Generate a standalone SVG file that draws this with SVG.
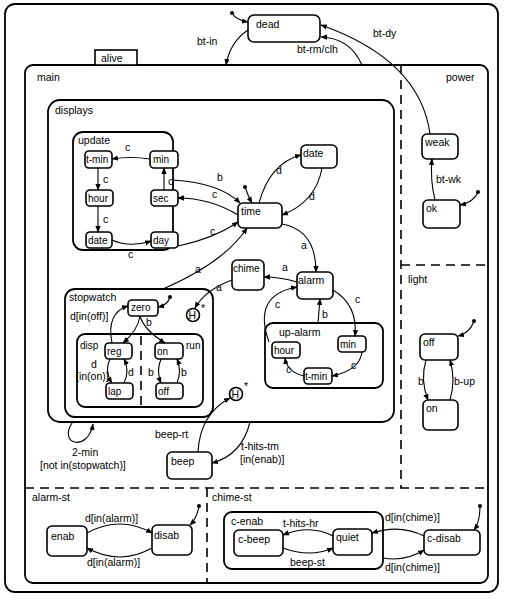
<svg xmlns="http://www.w3.org/2000/svg" width="506" height="601" viewBox="0 0 506 601">
<defs>
<marker id="ar" viewBox="0 0 10 10" refX="9" refY="5" markerWidth="6" markerHeight="6" orient="auto"><path d="M0,1 L10,5 L0,9 z" fill="#000"/></marker>
<style>
text{font-family:"Liberation Sans",Arial,sans-serif;font-size:10.5px;fill:#000}
.n{font-size:10px}
.s{fill:#fff;stroke:#000;stroke-width:1.6}
.b{fill:none;stroke:#000;stroke-width:1.8}
.d{fill:none;stroke:#000;stroke-width:1.6;stroke-dasharray:9,6}
#conn path{fill:none;stroke:#000;stroke-width:1.1;marker-end:url(#ar)}
.dot{fill:#000}
</style>
</defs>
<rect width="506" height="601" fill="#fff"/>
<rect x="5" y="4" width="493" height="588" rx="10" class="b"/>
<g id="alive">
<rect x="25" y="65" width="463" height="518" rx="8" class="b"/>
<rect x="95" y="50" width="42" height="15" class="s"/><text x="101" y="62">alive</text>
<line x1="401" y1="65" x2="401" y2="488" class="d"/>
<line x1="401" y1="265" x2="488" y2="265" class="d"/>
<line x1="25" y1="488" x2="488" y2="488" class="d"/>
<line x1="207" y1="488" x2="207" y2="583" class="d"/>
<text x="37" y="81">main</text><text x="446" y="81">power</text><text x="408" y="283">light</text>
<text x="32" y="501">alarm-st</text><text x="212" y="501">chime-st</text>
</g>
<g id="dead"><rect x="248" y="15" width="72" height="27" rx="6" class="s"/><text x="256" y="28">dead</text></g>
<g id="displays"><rect x="48" y="100" width="346" height="322" rx="12" class="b"/><text x="55" y="114">displays</text></g>
<g id="update"><rect x="73" y="132" width="100" height="118" rx="10" class="b"/><text x="78" y="144">update</text></g>
<g id="u-tmin"><rect x="85" y="151" width="27" height="17" rx="4" class="s"/><text class="n" x="86" y="163">t-min</text></g>
<g id="u-min"><rect x="150" y="151" width="28" height="17" rx="4" class="s"/><text class="n" x="153" y="163">min</text></g>
<g id="u-hour"><rect x="86" y="190" width="27" height="16" rx="4" class="s"/><text class="n" x="88" y="202">hour</text></g>
<g id="u-sec"><rect x="151" y="190" width="27" height="16" rx="4" class="s"/><text class="n" x="153" y="202">sec</text></g>
<g id="u-date"><rect x="86" y="232" width="26" height="16" rx="4" class="s"/><text class="n" x="88" y="244">date</text></g>
<g id="u-day"><rect x="151" y="232" width="27" height="16" rx="4" class="s"/><text class="n" x="153" y="244">day</text></g>
<g id="time"><rect x="238" y="203" width="44" height="25" rx="5" class="s"/><text x="241" y="215">time</text></g>
<g id="date"><rect x="301" y="145" width="36" height="23" rx="5" class="s"/><text x="303" y="157">date</text></g>
<g id="chime"><rect x="232" y="260" width="32" height="30" rx="5" class="s"/><text class="n" x="233" y="272">chime</text></g>
<g id="alarm"><rect x="297" y="272" width="36" height="27" rx="5" class="s"/><text x="298" y="284">alarm</text></g>
<g id="stopwatch"><rect x="65" y="289" width="148" height="128" rx="10" class="b"/><text x="69" y="301">stopwatch</text></g>
<g id="zero"><rect x="128" y="300" width="30" height="16" rx="4" class="s"/><text class="n" x="131" y="311">zero</text></g>
<g id="h1"><circle cx="193" cy="315" r="6.5" class="s"/><text x="188.5" y="319">H</text><text x="201" y="312">*</text></g>
<g id="disprun"><rect x="77" y="334" width="126" height="73" rx="8" class="b"/><line x1="141" y1="336" x2="141" y2="407" class="d"/><text class="n" x="80" y="349">disp</text><text class="n" x="186" y="349">run</text></g>
<g id="reg"><rect x="105" y="343" width="27" height="16" rx="4" class="s"/><text class="n" x="107" y="355">reg</text></g>
<g id="lap"><rect x="106" y="383" width="27" height="16" rx="4" class="s"/><text class="n" x="108" y="395">lap</text></g>
<g id="on1"><rect x="155" y="343" width="28" height="16" rx="4" class="s"/><text class="n" x="157" y="355">on</text></g>
<g id="off1"><rect x="156" y="383" width="27" height="16" rx="4" class="s"/><text class="n" x="158" y="395">off</text></g>
<g id="upalarm"><rect x="265" y="323" width="118" height="65" rx="8" class="b"/><text x="279" y="336">up-alarm</text></g>
<g id="a-hour"><rect x="272" y="342" width="28" height="16" rx="4" class="s"/><text class="n" x="274" y="354">hour</text></g>
<g id="a-min"><rect x="338" y="336" width="28" height="16" rx="4" class="s"/><text class="n" x="340" y="348">min</text></g>
<g id="a-tmin"><rect x="304" y="368" width="28" height="16" rx="4" class="s"/><text class="n" x="305" y="380">t-min</text></g>
<g id="h2"><circle cx="236" cy="394" r="6.5" class="s"/><text x="231.5" y="398">H</text><text x="244" y="390">*</text></g>
<g id="beep"><rect x="167" y="452" width="45" height="27" rx="5" class="s"/><text x="171" y="465">beep</text></g>
<g id="weak"><rect x="422" y="134" width="36" height="25" rx="5" class="s"/><text x="425" y="146">weak</text></g>
<g id="ok"><rect x="423" y="200" width="37" height="28" rx="5" class="s"/><text x="426" y="212">ok</text></g>
<g id="off"><rect x="420" y="334" width="38" height="26" rx="5" class="s"/><text x="423" y="346">off</text></g>
<g id="on"><rect x="423" y="400" width="35" height="30" rx="5" class="s"/><text x="426" y="412">on</text></g>
<g id="enab"><rect x="47" y="526" width="40" height="30" rx="5" class="s"/><text x="51" y="540">enab</text></g>
<g id="disab"><rect x="152" y="525" width="40" height="30" rx="5" class="s"/><text x="154" y="539">disab</text></g>
<g id="cenab"><rect x="224" y="512" width="159" height="57" rx="8" class="b"/><text x="231" y="525">c-enab</text></g>
<g id="cbeep"><rect x="234" y="530" width="49" height="26" rx="5" class="s"/><text x="238" y="543">c-beep</text></g>
<g id="quiet"><rect x="333" y="529" width="39" height="26" rx="5" class="s"/><text x="336" y="541">quiet</text></g>
<g id="cdisab"><rect x="424" y="530" width="56" height="25" rx="5" class="s"/><text x="427" y="542">c-disab</text></g>
<g id="conn">
<circle class="dot" cx="232" cy="13" r="2"/><path d="M232,13 Q236,20 248,22"/>
<path d="M248,30 Q230,42 226,65"/>
<path d="M362,65 Q350,38 321,37"/>
<path d="M430,134 Q420,60 321,25"/>
<path d="M150,159 Q130,156 112,159"/>
<path d="M98,168 L98,190"/>
<path d="M98,206 L98,232"/>
<path d="M112,240 Q130,248 151,241"/>
<path d="M164,190 L164,168"/>
<path d="M173,180 Q220,183 240,203"/>
<path d="M238,215 Q210,198 178,198"/>
<path d="M178,246 Q215,238 238,222"/>
<circle class="dot" cx="245" cy="187" r="2"/><path d="M245,187 Q248,196 252,203"/>
<path d="M259,203 Q270,163 301,155"/>
<path d="M322,168 Q316,202 282,215"/>
<path d="M163,289 Q225,262 247,228"/>
<path d="M282,224 Q316,230 316,272"/>
<path d="M297,282 Q280,277 264,277"/>
<path d="M232,280 Q205,290 195,308"/>
<circle class="dot" cx="170" cy="297" r="2"/><path d="M170,297 Q168,305 158,307"/>
<path d="M140,316 Q138,330 123,343"/>
<path d="M140,316 Q144,330 165,343"/>
<path d="M112,343 Q106,313 128,306"/>
<path d="M110,359 Q104,371 112,383"/>
<path d="M124,383 Q130,371 124,359"/>
<path d="M161,359 Q156,371 161,383"/>
<path d="M177,383 Q182,371 177,359"/>
<path d="M333,290 Q358,305 355,336"/>
<path d="M362,352 Q360,370 332,376"/>
<path d="M304,376 Q287,372 285,358"/>
<path d="M269,342 Q252,295 297,287"/>
<path d="M318,323 L320,299"/>
<path d="M198,452 Q200,414 230,398"/>
<path d="M250,422 Q242,455 212,463"/>
<path d="M72,423 C58,445 88,452 93,424"/>
<path d="M435,200 Q430,180 432,159"/>
<circle class="dot" cx="478" cy="192" r="2"/><path d="M478,192 Q474,202 460,205"/>
<circle class="dot" cx="474" cy="321" r="2"/><path d="M474,321 Q470,333 458,336"/>
<path d="M426,360 Q420,380 428,400"/>
<path d="M450,400 Q456,380 450,360"/>
<path d="M87,533 Q120,515 152,533"/>
<path d="M152,548 Q120,566 87,548"/>
<circle class="dot" cx="199" cy="506" r="2"/><path d="M199,506 Q197,518 190,525"/>
<circle class="dot" cx="480" cy="506" r="2"/><path d="M480,506 Q480,522 474,530"/>
<path d="M424,536 Q400,524 372,533"/>
<path d="M383,558 Q405,562 424,550"/>
<path d="M333,536 Q310,524 283,535"/>
<path d="M283,548 Q310,558 333,548"/>
</g>
<g id="labels">
<text x="197" y="45">bt-in</text><text x="297" y="53">bt-rm/clh</text><text x="373" y="37">bt-dy</text>
<text x="125" y="151">c</text><text x="103" y="183">c</text><text x="103" y="223">c</text><text x="128" y="258">c</text><text x="168" y="185">c</text>
<text x="217" y="181">b</text><text x="212" y="198">c</text><text x="210" y="235">c</text>
<text x="276" y="174">d</text><text x="309" y="200">d</text>
<text x="195" y="273">a</text><text x="301" y="249">a</text><text x="282" y="271">a</text><text x="216" y="291">a</text>
<text x="70" y="320">d[in(off)]</text><text x="146" y="326">b</text>
<text x="91" y="368">d</text><text x="76" y="380">[in(on)]</text><text x="128" y="376">d</text>
<text x="148" y="376">b</text><text x="181" y="376">b</text>
<text x="355" y="303">c</text><text x="275" y="308">c</text><text x="322" y="318">b</text><text x="351" y="369">c</text><text x="286" y="373">c</text>
<text x="155" y="438">beep-rt</text><text x="241" y="450">t-hits-tm</text><text x="240" y="463">[in(enab)]</text>
<text x="72" y="456">2-min</text><text x="40" y="469">[not in(stopwatch)]</text>
<text x="436" y="183">bt-wk</text>
<text x="418" y="385">b</text><text x="454" y="385">b-up</text>
<text x="85" y="522">d[in(alarm)]</text><text x="87" y="566">d[in(alarm)]</text>
<text x="283" y="527">t-hits-hr</text><text x="290" y="566">beep-st</text>
<text x="385" y="521">d[in(chime)]</text><text x="385" y="571">d[in(chime)]</text>
</g>
</svg>
